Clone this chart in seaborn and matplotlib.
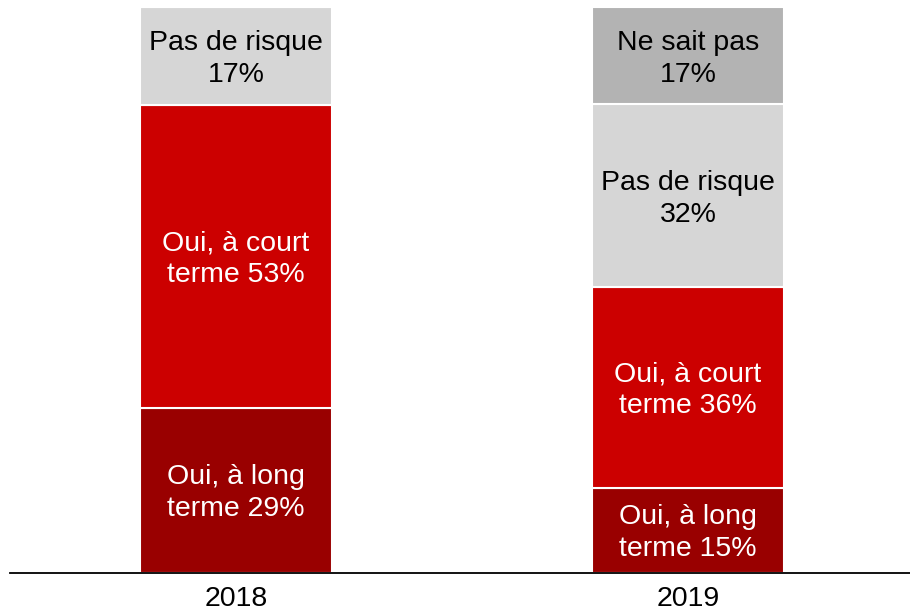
import matplotlib
matplotlib.use("Agg")
import matplotlib.pyplot as plt
import seaborn as sns
import pandas as pd
import numpy as np

years = ["2018", "2019"]
series_names = ["Oui, à long terme", "Oui, à court terme", "Pas de risque", "Ne sait pas"]
# segment heights (percent)
long_terme = [29.2, 15.0]
court_terme = [53.5, 35.5]
pas_de_risque = [17.3, 32.3]
ne_sait_pas = [0.0, 17.2]
# percentages printed in the labels
long_terme_lbl = [29, 15]
court_terme_lbl = [53, 36]
pas_de_risque_lbl = [17, 32]
ne_sait_pas_lbl = [0, 17]

label_fmt = {
    "Oui, à long terme": "Oui, à long\nterme {}%",
    "Oui, à court terme": "Oui, à court\nterme {}%",
    "Pas de risque": "Pas de risque\n{}%",
    "Ne sait pas": "Ne sait pas\n{}%",
}
colors = {
    "Oui, à long terme": "#990000",
    "Oui, à court terme": "#CC0000",
    "Pas de risque": "#D6D6D6",
    "Ne sait pas": "#B3B3B3",
}
text_colors = {
    "Oui, à long terme": "white",
    "Oui, à court terme": "white",
    "Pas de risque": "black",
    "Ne sait pas": "black",
}

sns.set_theme(style="white")
plt.rcParams["font.family"] = ["Liberation Sans", "DejaVu Sans"]

fig = plt.figure(figsize=(9.10, 6.11), dpi=100)
ax = fig.add_axes([10 / 910, 38 / 611, 900 / 910, 566 / 611])

values = [long_terme, court_terme, pas_de_risque, ne_sait_pas]
lbls = [long_terme_lbl, court_terme_lbl, pas_de_risque_lbl, ne_sait_pas_lbl]
bottom = np.zeros(len(years))
for name, vals, lv in zip(series_names, values, lbls):
    vals = np.array(vals, dtype=float)
    df = pd.DataFrame({"year": years, "value": vals})
    sns.barplot(data=df, x="year", y="value", color=colors[name], bottom=bottom,
                width=0.425, edgecolor="white", linewidth=1.5, ax=ax,
                saturation=1, errorbar=None)
    for i, v in enumerate(vals):
        if v > 0:
            ax.text(i, bottom[i] + v / 2 - 0.5, label_fmt[name].format(lv[i]),
                    ha="center", va="center", fontsize=20.5,
                    color=text_colors[name], linespacing=1.3)
    bottom = bottom + vals

ax.set_xlim(-0.5, 1.491)
ax.set_ylim(0, 100)
ax.set_xlabel("")
ax.set_ylabel("")
ax.set_yticks([])
ax.tick_params(axis="x", length=0, labelsize=20.5, pad=9, colors="black")
for s in ["top", "right", "left"]:
    ax.spines[s].set_visible(False)
ax.spines["bottom"].set_color("black")
ax.spines["bottom"].set_linewidth(1.3)

fig.savefig("out.png", dpi=100, facecolor="white")
